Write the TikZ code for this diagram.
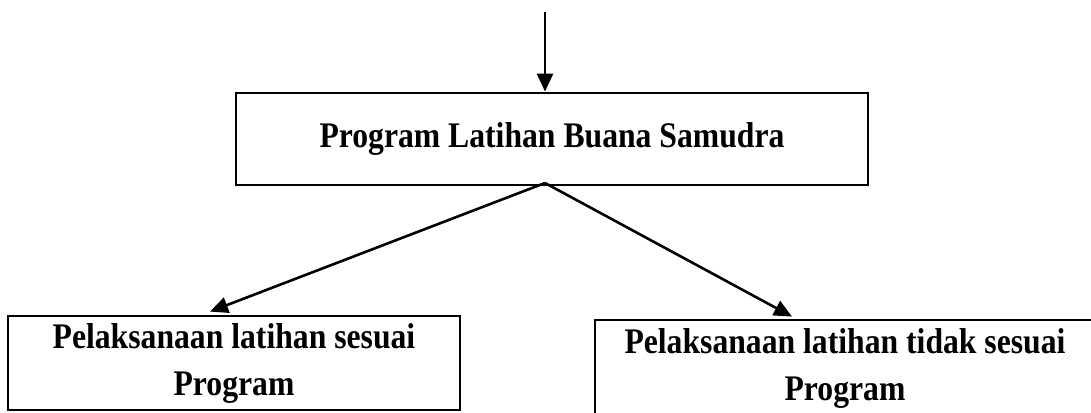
\documentclass[tikz,border=0pt]{standalone}
\usepackage{fontspec}
\setmainfont{Liberation Serif}
\newfontfamily\boxfont[FakeStretch=0.88]{Liberation Serif}
\usetikzlibrary{arrows.meta}
\begin{document}
\begin{tikzpicture}[x=1pt,y=-1pt,
    box/.style={draw,line width=2.8pt,inner sep=0pt,align=center,font=\boxfont\bfseries\fontsize{36}{47}\selectfont},
    arr/.style={line width=2.6pt,-{Triangle[length=18pt,width=16pt]}}]
  \useasboundingbox (0,0) rectangle (1091,412);
  \clip (0,0) rectangle (1091,412);
  \node [box,minimum width=632pt,minimum height=92pt] (P) at (552,139) {Program Latihan Buana Samudra};
  \node [box,minimum width=452pt,minimum height=94pt] (L) at (234,363) {Pelaksanaan latihan sesuai\\Program};
  \node [box,minimum width=500pt,minimum height=96pt] (R) at (845,368) {Pelaksanaan latihan tidak sesuai\\Program};
  \coordinate (top) at (545,12);
  \coordinate (fork) at (545,183);
  \draw [arr] (top) to (top |- P.north);
  \draw [arr] (fork) to ([xshift=-24pt,yshift=3pt]L.north);
  \draw [arr] (fork) to ([xshift=-53pt,yshift=2pt]R.north);
\end{tikzpicture}
\end{document}
